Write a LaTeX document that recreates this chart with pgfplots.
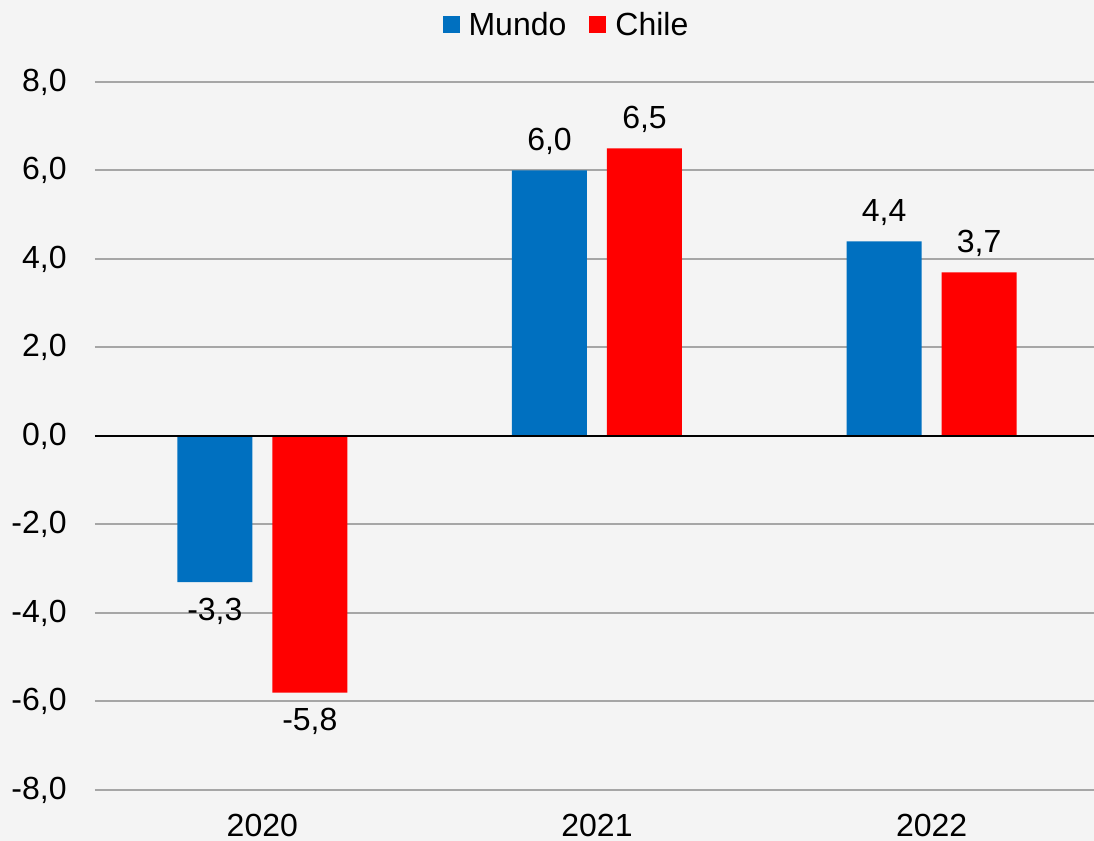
\documentclass[border=0pt]{standalone}
\usepackage{fontspec}
\setmainfont{Liberation Sans}
\usepackage{pgfplots}
\pgfplotsset{compat=1.18}
\definecolor{mundo}{HTML}{0070C0}
\definecolor{chile}{HTML}{FF0000}
\definecolor{bg}{HTML}{F4F4F4}
\definecolor{gridc}{HTML}{A6A6A6}

\begin{document}
\begin{tikzpicture}[x=1pt,y=1pt]
  % page = 1094 x 841 px at 0.5pt per px
  \useasboundingbox (0,0) rectangle (547,420.5);
  \clip (0,0) rectangle (547,420.5);
  \fill[bg] (0,0) rectangle (547,420.5);
  \begin{axis}[
    at={(47.5pt,25.5pt)}, anchor=south west,
    scale only axis,
    width=502pt, height=354pt,
    ybar=10pt, bar width=37.5pt,
    xmin=-0.5, xmax=2.5,
    ymin=-8, ymax=8,
    xtick={0,1,2}, xticklabels={2020,2021,2022},
    ytick={-8,-6,...,8},
    axis line style={draw=none},
    tick style={draw=none},
    major tick length=0pt,
    ymajorgrids, grid style={gridc, line width=1pt},
    font=\fontsize{16pt}{19pt}\selectfont,
    /pgf/number format/assume math mode=true,
    yticklabel={\pgfmathprintnumber[fixed, fixed zerofill, precision=1, use comma]{\tick}},
    yticklabel style={anchor=east, inner sep=0pt, xshift=-14pt},
    xticklabel style={anchor=north, inner sep=0pt, yshift=-12pt},
    nodes near coords={\pgfmathprintnumber[fixed, fixed zerofill, precision=1, use comma]{\pgfplotspointmeta}},
    nodes near coords style={font=\fontsize{16pt}{19pt}\selectfont, black, inner sep=0pt, outer sep=8pt},
    legend style={at={(0.4706,1.0805)}, anchor=center, draw=none, fill=none,
                  legend columns=-1, font=\fontsize{16pt}{19pt}\selectfont,
                  /tikz/every even column/.append style={column sep=9.5pt}},
    legend image code/.code={\fill[#1] (0pt,-4.25pt) rectangle (8.5pt,4.25pt); \path (11pt,0pt);},
    clip=false,
  ]
    \addplot[fill=mundo, draw=none] coordinates {(0,-3.3) (1,6.0) (2,4.4)};
    \addlegendentry{Mundo}
    \addplot[fill=chile, draw=none] coordinates {(0,-5.8) (1,6.5) (2,3.7)};
    \addlegendentry{Chile}
    \draw[black, line width=1pt] (axis cs:-0.5,0) -- (axis cs:2.5,0);
  \end{axis}
\end{tikzpicture}
\end{document}
